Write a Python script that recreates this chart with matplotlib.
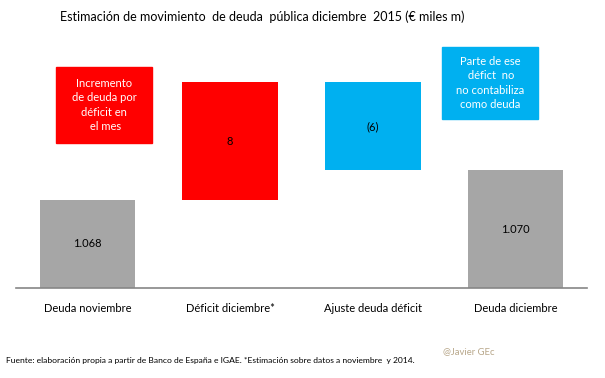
import matplotlib
matplotlib.use("Agg")
import matplotlib.pyplot as plt
from matplotlib.patches import Rectangle

plt.rcParams["font.family"] = ["Lato", "DejaVu Sans"]

# Data
categories = ["Deuda noviembre", "Déficit diciembre*", "Ajuste deuda déficit", "Deuda diciembre"]
values = [1068, 8, -6, 1070]
value_labels = ["1.068", "8", "(6)", "1.070"]
colors = ["#a6a6a6", "#ff0000", "#00b0f0", "#a6a6a6"]
base = 1062

# waterfall: totals start at the base, changes float on the running total
bottoms = []
heights = []
running = values[0]
for i, v in enumerate(values):
    if i == 0 or i == len(values) - 1:
        bottoms.append(base)
        heights.append(v - base)
        running = v
    else:
        start = running
        running = running + v
        bottoms.append(min(start, running))
        heights.append(abs(v))

W, H = 605, 378
fig = plt.figure(figsize=(W / 100, H / 100), dpi=100)
ax = fig.add_axes([16 / W, 1 - 288 / H, (587 - 16) / W, (288 - 30) / H])

x = list(range(len(categories)))
ax.bar(x, heights, bottom=bottoms, width=0.67, color=colors)
for xi, b, h, lab in zip(x, bottoms, heights, value_labels):
    ax.text(xi, b + h / 2, lab, ha="center", va="center", fontsize=8, color="black")

ax.set_xlim(-0.5, 3.5)
ax.set_ylim(base, base + (288 - 30) / 14.7)
ax.set_xticks(x)
ax.set_xticklabels(categories, fontsize=8)
ax.tick_params(axis="x", length=0, pad=11)
ax.set_yticks([])
for s in ["top", "right", "left"]:
    ax.spines[s].set_visible(False)
ax.spines["bottom"].set_color("#868686")
ax.spines["bottom"].set_linewidth(1.2)

# annotation boxes
def note(x0, y0, x1, y1, color, text):
    fig.add_artist(Rectangle((x0 / W, 1 - y1 / H), (x1 - x0) / W, (y1 - y0) / H,
                             transform=fig.transFigure, color=color))
    fig.text((x0 + x1) / 2 / W, 1 - (y0 + y1) / 2 / H, text, ha="center", va="center",
             color="white", fontsize=8, linespacing=1.4)

note(56, 67, 152, 143, "#ff0000", "Incremento\nde deuda por\ndéficit en\n el mes")
note(442, 47, 538, 119, "#00b0f0", "Parte de ese\n défict  no\nno contabiliza\ncomo deuda")

fig.text(262 / W, 1 - 17 / H, "Estimación de movimiento  de deuda  pública diciembre  2015 (€ miles m)",
         ha="center", va="center", fontsize=9)
fig.text(6 / W, 1 - 360 / H,
         "Fuente: elaboración propia a partir de Banco de España e IGAE. *Estimación sobre datos a noviembre  y 2014.",
         ha="left", va="center", fontsize=6.1)
fig.text(443 / W, 1 - 352 / H, "@Javier GEc", ha="left", va="center", fontsize=6.8, color="#b8a78a")

fig.savefig("out.png", dpi=100)
